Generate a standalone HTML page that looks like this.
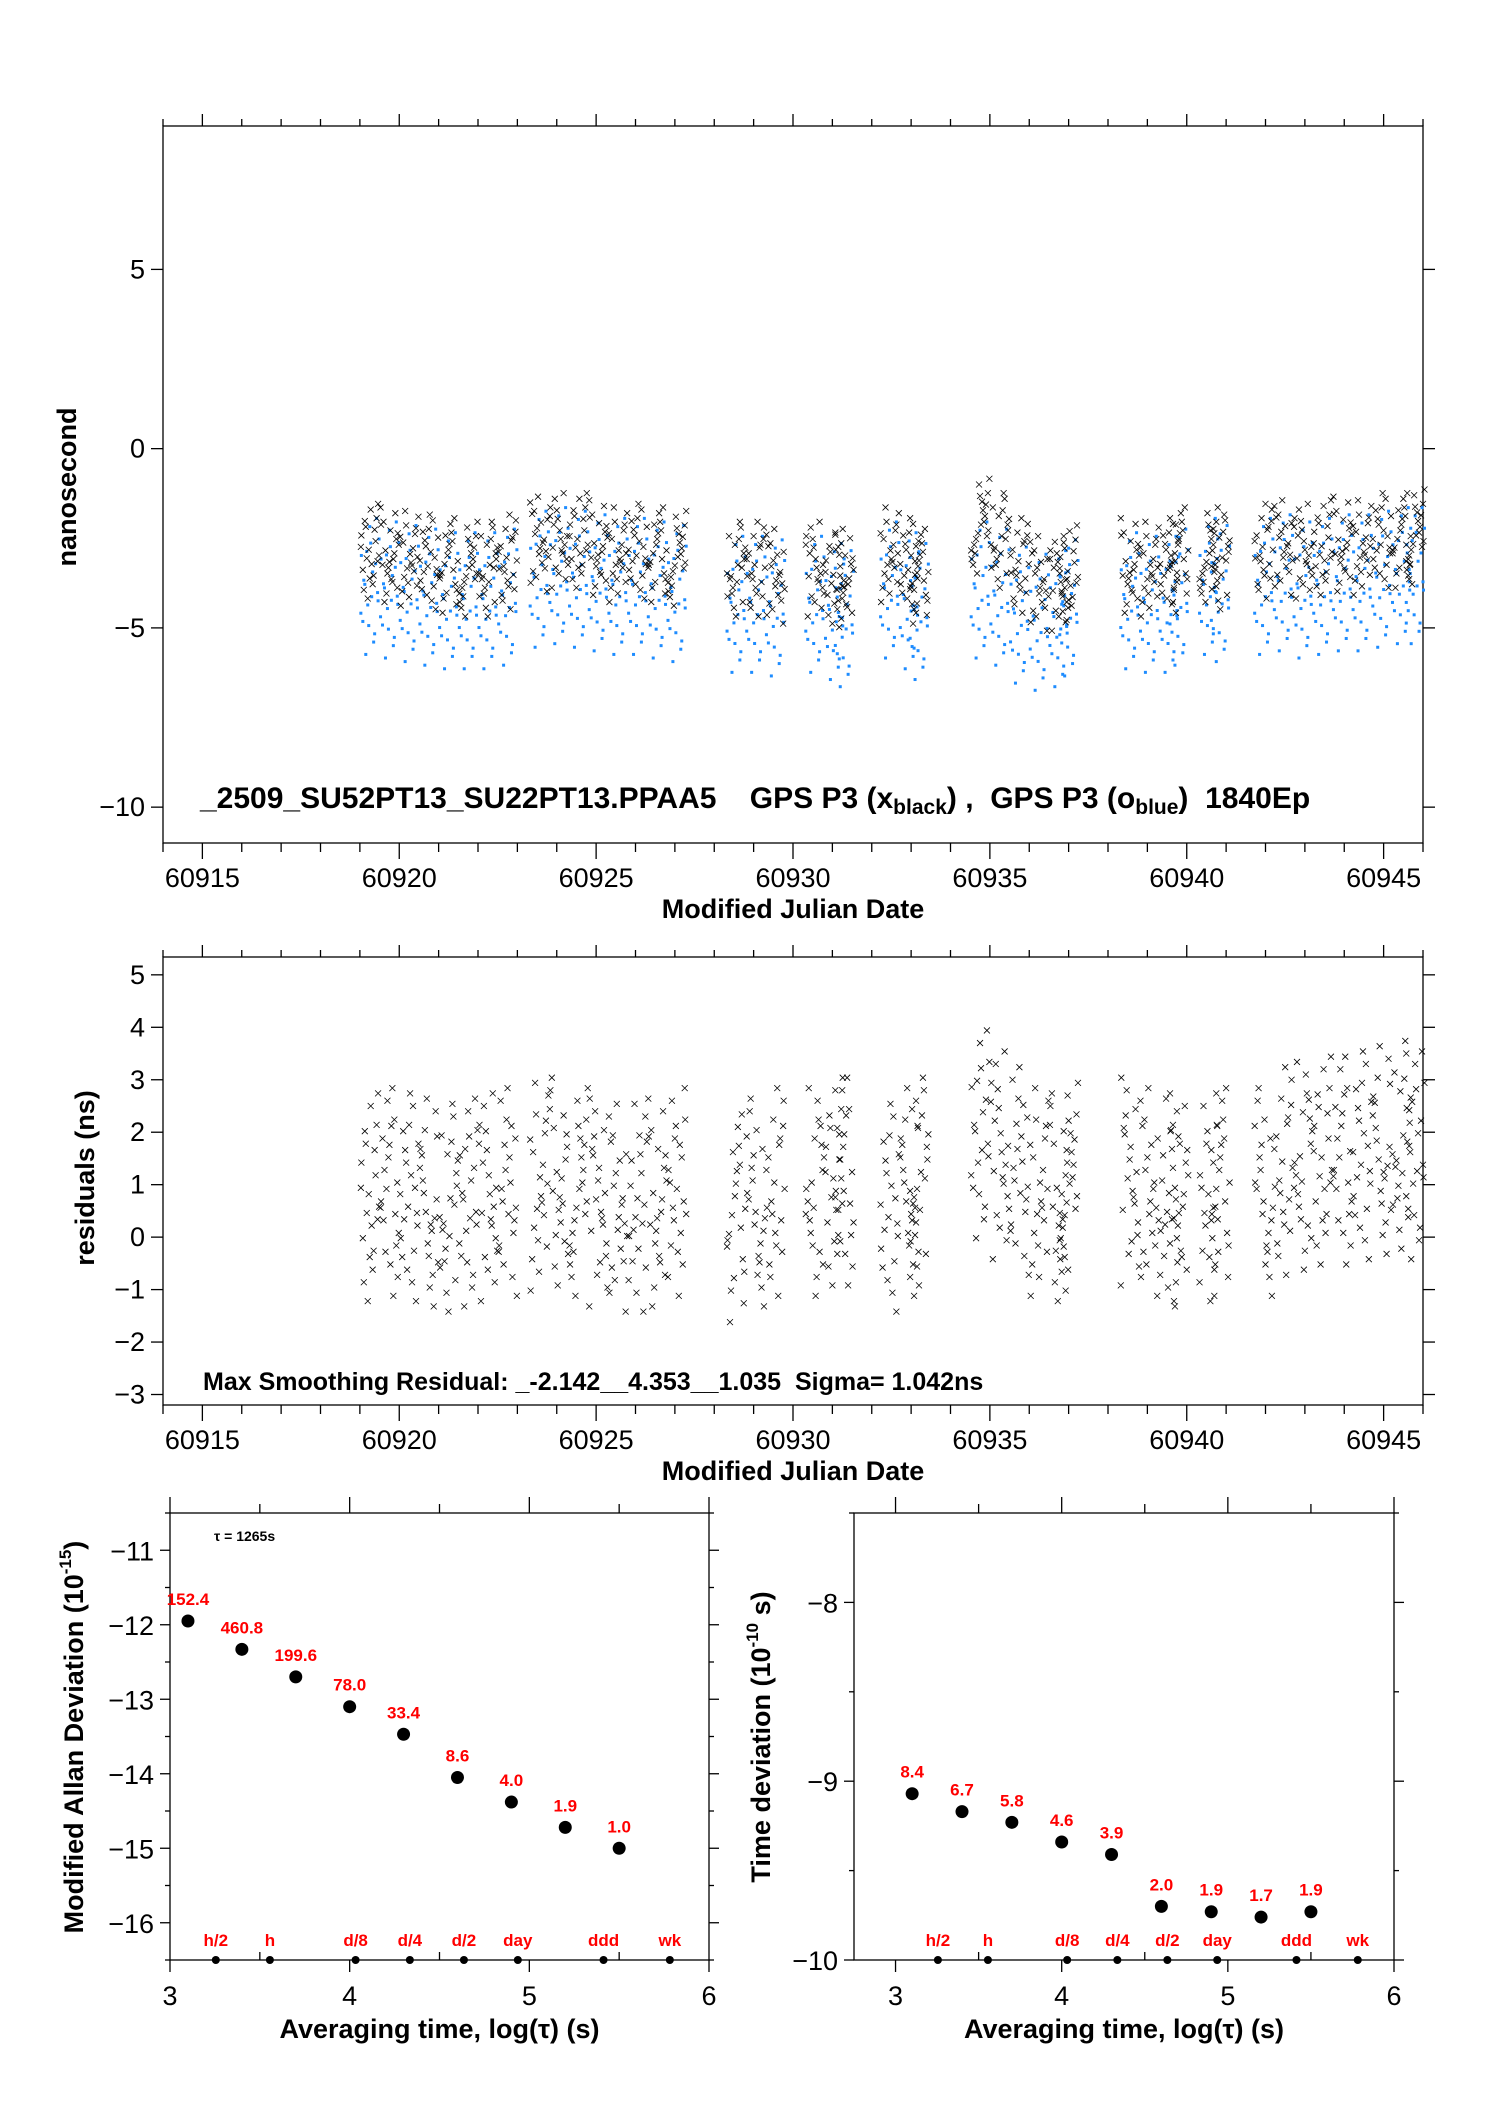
<!DOCTYPE html>
<html><head><meta charset="utf-8"><style>
body{margin:0;background:#fff}
svg{display:block}
text{font-family:"Liberation Sans",sans-serif}
.t{font-size:27px}
.b{font-weight:bold;font-size:27px}
.r{fill:#ff0000;font-weight:bold;font-size:17px}
</style></head><body>
<svg id="s" width="1488" height="2105" viewBox="0 0 1488 2105" xmlns="http://www.w3.org/2000/svg">
<g id="g1"></g>
<g id="g2"></g>
<g id="g3"></g>
<g id="g4"></g>
</svg>
<script>
const binDays=[60919.25,60919.75,60920.25,60920.75,60921.25,60921.75,60922.25,60922.75,
60923.55,60924.05,60924.55,60925.05,60925.55,60926.05,60926.55,60927.05,
60928.55,60929.05,60929.55,60930.55,60931.05,60931.3,60932.45,60932.95,60933.2,
60934.75,60935.25,60935.75,60936.25,60936.75,60937.0,60938.55,60939.05,60939.55,60939.8,
60940.55,60940.85,60941.95,60942.45,60942.95,60943.45,60943.95,60944.45,60944.95,60945.45,60945.8];
const blackMean=[-2.9,-3.0,-3.1,-3.2,-3.3,-3.4,-3.4,-3.2,-2.7,-2.6,-2.6,-2.8,-3.0,-2.9,-3.0,-3.1,
-3.4,-3.4,-3.6,-3.4,-3.6,-3.7,-3.0,-3.3,-3.6,-2.2,-2.6,-3.3,-3.8,-3.8,-3.5,-3.3,-3.4,-3.3,-3.0,
-3.0,-3.2,-2.9,-2.8,-2.9,-2.8,-2.7,-2.8,-2.6,-2.6,-2.5];
const blueMean=[-3.9,-4.0,-4.1,-4.2,-4.3,-4.3,-4.3,-4.2,-3.7,-3.6,-3.7,-3.8,-3.9,-3.9,-4.0,-4.1,
-4.4,-4.4,-4.5,-4.4,-4.6,-4.8,-4.0,-4.3,-4.6,-4.0,-4.2,-4.7,-4.9,-4.8,-4.5,-4.3,-4.4,-4.4,-4.2,
-3.9,-4.1,-3.9,-3.8,-4.0,-3.9,-3.8,-3.8,-3.7,-3.6,-3.6];
const residMean=[0.7,0.8,0.7,0.6,0.5,0.6,0.7,0.8,0.9,1.0,0.8,0.6,0.5,0.5,0.6,0.8,
0.3,0.6,0.8,0.8,1.0,1.0,0.5,0.8,1.0,1.9,1.5,1.2,0.8,0.7,0.9,1.0,0.8,0.6,0.7,
0.7,0.8,0.8,1.2,1.3,1.4,1.4,1.5,1.6,1.7,1.5];
const jx=[-0.9,0.3,-0.4,0.8,0.1,-0.7,0.6,-0.2,0.95,-0.5,0.4,-0.85,0.2,0.7,-0.1,-0.6,0.5,-0.3,0.85,0.0];
const jy=[0.2,-1.1,0.9,-0.3,1.5,-0.6,0.4,-1.6,-0.1,1.1,-0.8,0.6,-0.4,1.2,0.1,-1.3,0.8,-0.2,1.7,-0.9];
const mjdTicks=[60915,60920,60925,60930,60935,60940,60945];
const tsTicks=[5,0,-5,-10];
const resTicks=[5,4,3,2,1,0,-1,-2,-3];
const logTau=[3.1,3.4,3.7,4.0,4.3,4.6,4.9,5.2,5.5];
const adev=[-11.95,-12.33,-12.7,-13.1,-13.47,-14.05,-14.38,-14.72,-15.0];
const adevLabels=["152.4","460.8","199.6","78.0","33.4","8.6","4.0","1.9","1.0"];
const tdev=[-9.07,-9.17,-9.23,-9.34,-9.41,-9.70,-9.73,-9.76,-9.73];
const tdevLabels=["8.4","6.7","5.8","4.6","3.9","2.0","1.9","1.7","1.9"];
const markNames=["h/2","h","d/8","d/4","d/2","day","ddd","wk"];
const markLog=[3.255,3.556,4.033,4.335,4.636,4.936,5.413,5.782];
const adevTicks=[-11,-12,-13,-14,-15,-16];
const tdevTicks=[-8,-9,-10];
const logTicks=[3,4,5,6];

const NS="http://www.w3.org/2000/svg";
function mk(p,tag,at,txt){const e=document.createElementNS(NS,tag);for(const k in at)e.setAttribute(k,at[k]);if(txt!==undefined)e.textContent=txt;p.appendChild(e);return e;}
function lin(d0,d1,r0,r1){return v=>r0+(v-d0)/(d1-d0)*(r1-r0);}

function frame(g,L,R,T,B){const e=mk(g,'rect',{x:L,y:T,width:R-L,height:B-T,fill:'none',stroke:'#000','stroke-width':1.3});

}
function xmark(g,x,y,s){mk(g,'path',{d:`M${x-s} ${y-s}L${x+s} ${y+s}M${x-s} ${y+s}L${x+s} ${y-s}`,stroke:'#000','stroke-width':0.8,fill:'none'});}

function mjdPanel(g,T,B,ymin,ymax,yt,title,isTop){
  const L=163,R=1423;
  const X=lin(60914,60946,L,R),Y=lin(ymin,ymax,B,T);
  frame(g,L,R,T,B);
  for(let d=60914;d<=60946;d++){const x=X(d),maj=d%5===0;
    mk(g,'line',{x1:x,x2:x,y1:T,y2:T-(maj?12:7),stroke:'#000','stroke-width':1.3});
    mk(g,'line',{x1:x,x2:x,y1:B,y2:B+(maj?16:9),stroke:'#000','stroke-width':1.3});}
  mjdTicks.forEach(v=>{const t=mk(g,'text',{x:X(v),y:B+44,'text-anchor':'middle',class:'t'},String(v));
    
    });
  yt.forEach(v=>{const y=Y(v);
    mk(g,'line',{x1:L,x2:L-12,y1:y,y2:y,stroke:'#000','stroke-width':1.3});
    mk(g,'line',{x1:R,x2:R+12,y1:y,y2:y,stroke:'#000','stroke-width':1.3});
    const t=mk(g,'text',{x:L-18,y:y+9,'text-anchor':'end',class:'t'},(v<0?'\u2212':'')+Math.abs(v));
    
    });
  const xt=mk(g,'text',{x:793,y:B+75,'text-anchor':'middle',class:'b'},'Modified Julian Date');
  
  
  const yl=mk(g,'text',{x:0,y:0,transform:`translate(${isTop?76:94},${isTop?487:1178}) rotate(-90)`,'text-anchor':'middle',class:'b'},title);
  
  
  return {X,Y};
}
const g1=document.getElementById('g1');
const p1=mjdPanel(g1,126,843,-11,9,tsTicks,'nanosecond',true);
const blueG=mk(g1,'g',{fill:'#1e8cff'});


const blackG=mk(g1,'g',{});


binDays.forEach((d,i)=>{for(let k=0;k<20;k++){
  const kb=(k+7+i)%20,kk=(k+3*i)%20;
  mk(blueG,'rect',{x:p1.X(d+0.25*jx[kb])-1.5,y:p1.Y(blueMean[i]+1.15*jy[(kb+5)%20])-1.5,width:3,height:3});
  xmark(blackG,p1.X(d+0.25*jx[kk]),p1.Y(blackMean[i]+0.8*jy[(k+i)%20]),3);}});
const leg=mk(g1,'text',{x:200,y:808,class:'b'});


leg.setAttribute('style','font-size:30px');
leg.innerHTML='_2509_SU52PT13_SU22PT13.PPAA5 \u00a0\u00a0 GPS P3 (x<tspan dy="6" font-size="21">black</tspan><tspan dy="-6">) , \u00a0GPS P3 (o</tspan><tspan dy="6" font-size="21">blue</tspan><tspan dy="-6">) \u00a01840Ep</tspan>';

const g2=document.getElementById('g2');
const p2=mjdPanel(g2,957,1405,-3.2,5.34,resTicks,'residuals (ns)',false);
const resG=mk(g2,'g',{});


binDays.forEach((d,i)=>{for(let k=0;k<20;k++){const kk=(k+5*i)%20;
  xmark(resG,p2.X(d+0.25*jx[kk]),p2.Y(residMean[i]+1.2*jy[(k+2*i)%20]),3);}});
const ms=mk(g2,'text',{x:203,y:1390,class:'b'},'Max Smoothing Residual: _-2.142__4.353__1.035  Sigma= 1.042ns');


ms.setAttribute('style','font-size:25px;white-space:pre');

function logPanel(g,L,R,xmin,ymin,ymax,yt,vals,labs,title,sup,unit,minorStep,tx){
  const T=1513,B=1960;
  const X=lin(xmin,6,L,R),Y=lin(ymin,ymax,B,T);
  frame(g,L,R,T,B);
  for(let v=3;v<=6;v+=0.5){const x=X(v),maj=v%1===0;
    mk(g,'line',{x1:x,x2:x,y1:T,y2:T-(maj?16:9),stroke:'#000','stroke-width':1.3});
    if(maj)mk(g,'line',{x1:x,x2:x,y1:B,y2:B+12,stroke:'#000','stroke-width':1.3});
    else mk(g,'line',{x1:x,x2:x,y1:B,y2:B-8,stroke:'#000','stroke-width':1.3});}
  logTicks.forEach(v=>{const t=mk(g,'text',{x:X(v),y:B+45,'text-anchor':'middle',class:'t'},String(v));
    
    });
  for(let v=ymin;v<=ymax+1e-9;v+=minorStep){const y=Y(v),maj=Math.abs(v-Math.round(v))<1e-6;
    mk(g,'line',{x1:L,x2:L-(maj?10:5),y1:y,y2:y,stroke:'#000','stroke-width':1.3});
    mk(g,'line',{x1:R,x2:R+(maj?10:5),y1:y,y2:y,stroke:'#000','stroke-width':1.3});}
  yt.forEach(v=>{const t=mk(g,'text',{x:L-16,y:Y(v)+10,'text-anchor':'end',class:'t'},'\u2212'+Math.abs(v));
    
    });
  const xt=mk(g,'text',{x:(L+R)/2,y:B+78,'text-anchor':'middle',class:'b'},'Averaging time, log(\u03c4) (s)');
  
  
  const yl=mk(g,'text',{class:'b','text-anchor':'middle'});
  yl.setAttribute('transform',`translate(${tx},1737) rotate(-90)`);
  yl.innerHTML=title+' (10<tspan dy="-12" font-size="17">'+sup+'</tspan><tspan dy="12">'+unit+')</tspan>';
  
  
  vals.forEach((v,i)=>{const c=mk(g,'circle',{cx:X(logTau[i]),cy:Y(v),r:6.5,fill:'#000'});
    
    
    const t=mk(g,'text',{x:X(logTau[i]),y:Y(v)-16,'text-anchor':'middle',class:'r'},labs[i]);
    
    });
  markLog.forEach((v,i)=>{mk(g,'circle',{cx:X(v),cy:B,r:4,fill:'#000'});
    const t=mk(g,'text',{x:X(v),y:B-14,'text-anchor':'middle',class:'r'},markNames[i]);
    
    });
  return {X,Y};
}
const g3=document.getElementById('g3');
logPanel(g3,170,709,3,-16.5,-10.5,adevTicks,adev,adevLabels,'Modified Allan Deviation','-15','',0.5,83);
const tau=mk(g3,'text',{x:214,y:1541,'font-size':'14px','font-weight':'bold'},'\u03c4 = 1265s');


const g4=document.getElementById('g4');
logPanel(g4,854,1394,2.75,-10,-7.5,tdevTicks,tdev,tdevLabels,'Time deviation','-10',' s',0.5,770);
</script>
</body></html>
